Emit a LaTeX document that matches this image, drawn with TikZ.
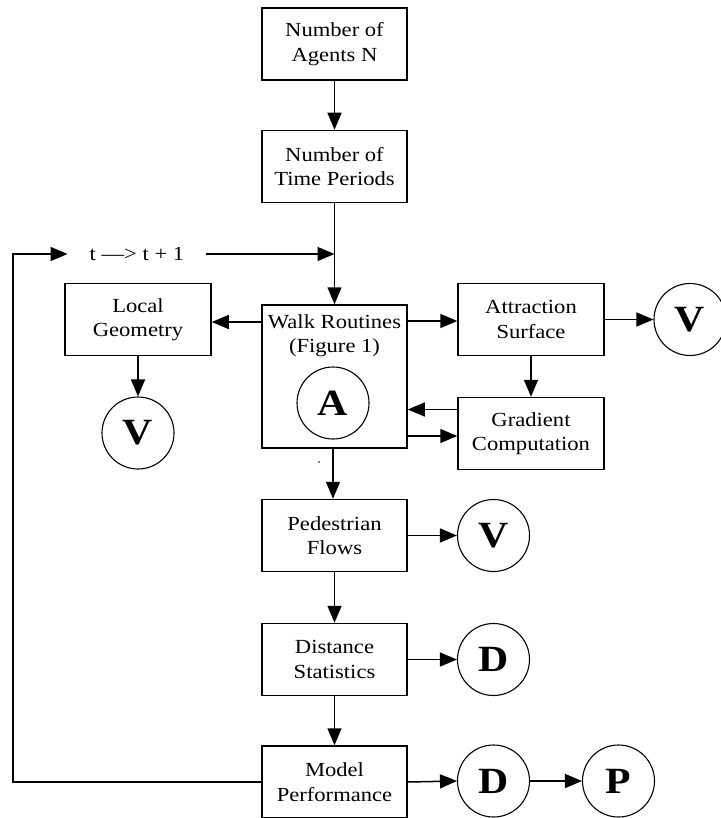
\documentclass[tikz,border=0pt]{standalone}
\usepackage{fontspec}
\setmainfont{Liberation Serif}[FakeStretch=1.13]
\usetikzlibrary{arrows.meta,calc}
\begin{document}
\begin{tikzpicture}[x=1pt,y=-1pt,
  box/.style={draw,line width=1.5pt,minimum width=145pt,minimum height=72pt,
    align=center,inner sep=0pt,font=\fontsize{20}{24.5}\selectfont},
  outcome/.style={draw,circle,line width=1.1pt,minimum size=72pt,inner sep=0pt,
    font=\bfseries\fontsize{37}{37}\selectfont},
  arr/.style={line width=1.5pt,-{Triangle[length=17pt,width=14pt]}},
  link/.style={line width=1.5pt}]
\useasboundingbox (0,0) rectangle (720,818);

% main column
\node[box] (agents)  at (334.5,44)    {Number of\\Agents N};
\node[box] (periods) at (334.5,166.5) {Number of\\Time Periods};
\node[box,minimum height=143pt] (walk) at (334.5,376.5) {};
\node[align=center,font=\fontsize{20}{24.5}\selectfont] (walktext) at (334.5,335.5)
  {Walk Routines\\(Figure 1)};
\node[outcome] (A) at (333,403) {A};
\node[box] (ped)   at (334.5,535.5) {Pedestrian\\Flows};
\node[box] (dist)  at (334.5,659.5) {Distance\\Statistics};
\node[box] (model) at (334.5,782)   {Model\\Performance};

% side boxes
\node[box,minimum width=146pt] (local) at (138,319.5) {Local\\Geometry};
\node[box,minimum width=146pt] (attr)  at (531,319.5) {Attraction\\Surface};
\node[box,minimum width=146pt] (grad)  at (531,433.5) {Gradient\\Computation};

% outputs
\node[outcome] (Vlocal) at (138,433)     {V};
\node[outcome] (Vattr)  at (690,319.5)   {V};
\node[outcome] (Vped)   at (493.5,535.5) {V};
\node[outcome] (Ddist)  at (493.5,659.5) {D};
\node[outcome] (Dmodel) at (493.5,781)   {D};
\node[outcome] (P)      at (618.5,781)   {P};

% time-step loop
\node[font=\fontsize{20}{24.5}\selectfont,inner xsep=22pt,inner ysep=0pt] (tstep) at (137,254)
  {t \textemdash{}> t + 1};
\coordinate (loopL) at (13,254);
\coordinate (join) at (334.5,254);

% connectors
\draw[arr] (agents) -- (periods);
\draw[link] (periods.south) -- (join);
\draw[arr] (join) -- (walk.north);
\draw[arr] (model.west) -| (loopL) -- (tstep.west);
\draw[arr] (tstep.east) -- (join);

\draw[arr] (walk.west |- 0,322) -- (local.east |- 0,322);
\draw[arr] (walk.east |- 0,321) -- (attr.west |- 0,321);
\draw[arr] (attr.east) -- (Vattr.west);
\draw[arr] (attr.south) -- (grad.north);
\draw[arr] ($(grad.west)+(0,-24)$) coordinate (g1) -- (g1 -| walk.east);
\draw[arr] (walk.east |- 0,436) coordinate (g2) -- (g2 -| grad.west);
\draw[arr] (local.south) -- (Vlocal.north);

\draw[arr] (walk.south -| 333,0) -- (ped.north -| 333,0);
\draw[arr] (ped.east) -- (Vped.west);
\draw[arr] (ped) -- (dist);
\draw[arr] (dist.east) -- (Ddist.west);
\draw[arr] (dist) -- (model);
\draw[arr] (model.east) -- (Dmodel.west);
\draw[arr] (Dmodel.east) -- (P.west);

% small speck below the walk box
\fill (319,462) circle (0.9);
\end{tikzpicture}
\end{document}
